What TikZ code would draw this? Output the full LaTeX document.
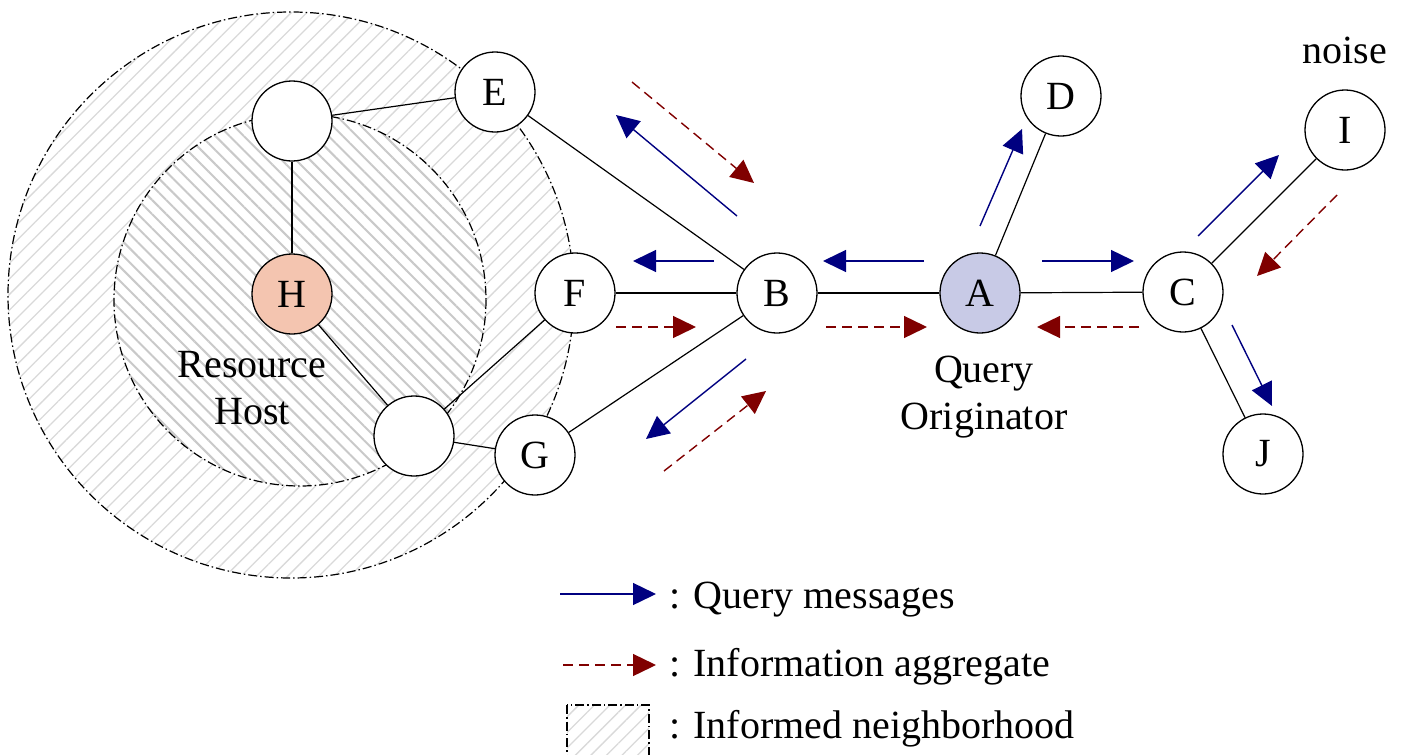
\documentclass[tikz,border=0pt]{standalone}
\usepackage{fontspec}
\setmainfont{Liberation Serif}
\newfontfamily\figfont{Liberation Serif}
\usetikzlibrary{arrows.meta,patterns.meta}
\definecolor{qblue}{RGB}{0,0,128}
\definecolor{ired}{RGB}{128,0,0}
\definecolor{hostfill}{RGB}{244,197,176}
\definecolor{origfill}{RGB}{200,202,230}
\tikzset{
  peer/.style={circle, draw, line width=1.3pt, minimum size=80pt, inner sep=0pt,
    fill=white, font=\figfont\fontsize{40}{45}\selectfont},
  link/.style={line width=1.2pt},
  query/.style={qblue, line width=1.4pt, -{Triangle[length=23pt,width=22pt]}},
  inform/.style={ired, line width=1.4pt, dash pattern=on 10pt off 6pt,
    -{Triangle[length=23pt,width=22pt]}},
  note/.style={font=\figfont\fontsize{40}{47}\selectfont, align=center, inner sep=0pt},
  hoodline/.style={line width=1.2pt, dash pattern=on 9pt off 3pt on 1.5pt off 3pt},
  outerhatch/.style={pattern={Lines[angle=45,distance=11pt,line width=1.3pt]}, pattern color=gray!30},
  innerhatch/.style={pattern={Lines[angle=-45,distance=10pt,line width=2pt]}, pattern color=gray!42},
}
\begin{document}
\begin{tikzpicture}[x=1pt, y=-1pt]
  \useasboundingbox (0,0) rectangle (1406,755);
  % informed neighborhood
  \fill[outerhatch] (291,295) circle [radius=283];
  \draw[hoodline] (291,295) circle [radius=283];
  \fill[white] (300,300) circle [radius=186];
  \fill[innerhatch] (300,300) circle [radius=186];
  \draw[hoodline] (300,300) circle [radius=186];
  % peers
  \node[peer] (N1) at (292,121) {};
  \node[peer, fill=hostfill] (H) at (292,294) {H};
  \node[peer] (N2) at (414,436) {};
  \node[peer] (E) at (495,92) {E};
  \node[peer] (F) at (575,293) {F};
  \node[peer] (G) at (535,455) {G};
  \node[peer] (B) at (777,293) {B};
  \node[peer, fill=origfill] (A) at (980,293) {A};
  \node[peer] (D) at (1061,96) {D};
  \node[peer] (C) at (1183,292) {C};
  \node[peer] (I) at (1345,130) {I};
  \node[peer] (J) at (1263,454) {J};
  % links
  \draw[link] (N1) -- (E);  \draw[link] (N1) -- (H);
  \draw[link] (H) -- (N2);  \draw[link] (N2) -- (F);  \draw[link] (N2) -- (G);
  \draw[link] (E) -- (B);   \draw[link] (F) -- (B);   \draw[link] (G) -- (B);
  \draw[link] (B) -- (A);   \draw[link] (A) -- (D);   \draw[link] (A) -- (C);
  \draw[link] (C) -- (I);   \draw[link] (C) -- (J);
  % labels
  \node[note] (hostlbl) at (252,388) {Resource\\Host};
  \node[note] (origlbl) at (984,397) {Query\\Originator};
  \node[note] (noiselbl) at (1345,50) {noise};
  % query messages
  \coordinate (q1s) at (737,216);  \coordinate (q1e) at (616,115);
  \coordinate (q2s) at (714,261);  \coordinate (q2e) at (633,261);
  \coordinate (q3s) at (924,261);  \coordinate (q3e) at (823,261);
  \coordinate (q4s) at (1042,261); \coordinate (q4e) at (1134,261);
  \coordinate (q5s) at (980,226);  \coordinate (q5e) at (1022,129);
  \coordinate (q6s) at (746,359);  \coordinate (q6e) at (646,439);
  \coordinate (q7s) at (1198,236); \coordinate (q7e) at (1279,155);
  \coordinate (q8s) at (1232,325); \coordinate (q8e) at (1272,406);
  \foreach \i in {1,...,8}
    \draw[query] (q\i s) -- (q\i e);
  % information aggregate
  \coordinate (r1s) at (632,82);   \coordinate (r1e) at (754,183);
  \coordinate (r2s) at (616,327);  \coordinate (r2e) at (696,327);
  \coordinate (r3s) at (826,327);  \coordinate (r3e) at (927,327);
  \coordinate (r4s) at (1139,327); \coordinate (r4e) at (1037,327);
  \coordinate (r5s) at (664,471);  \coordinate (r5e) at (766,391);
  \coordinate (r6s) at (1337,195); \coordinate (r6e) at (1257,276);
  \foreach \i in {1,...,6}
    \draw[inform] (r\i s) -- (r\i e);
  % legend
  \coordinate (lq) at (560,594);  \coordinate (lqe) at (656,594);
  \coordinate (li) at (563,665);  \coordinate (lie) at (656,665);
  \draw[query] (lq) -- (lqe);
  \draw[inform] (li) -- (lie);
  \fill[outerhatch] (567,705) rectangle (649,780);
  \draw[hoodline] (567,705) rectangle (649,780);
  \node[note, anchor=west] (lgq) at (669,600) {: Query messages};
  \node[note, anchor=west] (lgi) at (669,667) {: Information aggregate};
  \node[note, anchor=west] (lgn) at (669,729) {: Informed neighborhood};
\end{tikzpicture}
\end{document}
